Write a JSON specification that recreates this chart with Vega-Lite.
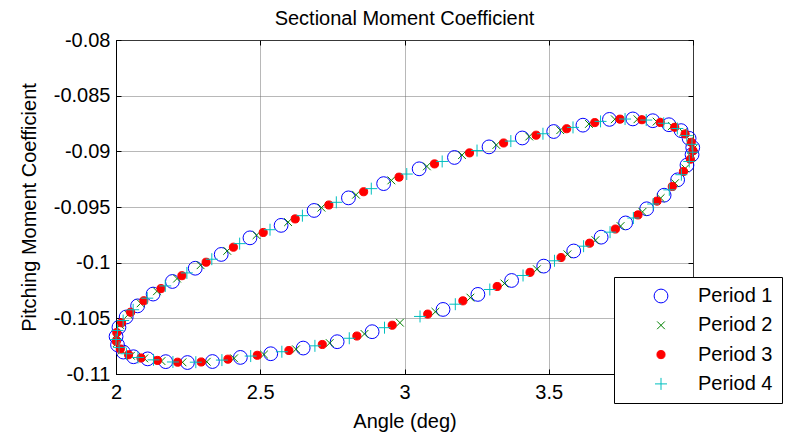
{
  "$schema": "https://vega.github.io/schema/vega-lite/v6.json",
  "width": 577,
  "height": 334,
  "autosize": {"type": "none"},
  "padding": {"left": 116, "top": 40, "right": 95, "bottom": 60},
  "background": "white",
  "title": {"text": "Sectional Moment Coefficient", "fontSize": 20, "fontWeight": "normal", "color": "black", "font": "Liberation Sans", "offset": 1},
  "data": {"values": [
    {"angle":2.0002,"cm":-0.10664,"period":"Period 1"},{"angle":2.0102,"cm":-0.10580,"period":"Period 1"},{"angle":2.0353,"cm":-0.10488,"period":"Period 1"},{"angle":2.0749,"cm":-0.10388,"period":"Period 1"},{"angle":2.1286,"cm":-0.10282,"period":"Period 1"},{"angle":2.1955,"cm":-0.10169,"period":"Period 1"},{"angle":2.2746,"cm":-0.10050,"period":"Period 1"},{"angle":2.3647,"cm":-0.09926,"period":"Period 1"},{"angle":2.4644,"cm":-0.09777,"period":"Period 1"},{"angle":2.5723,"cm":-0.09665,"period":"Period 1"},{"angle":2.6866,"cm":-0.09531,"period":"Period 1"},{"angle":2.8057,"cm":-0.09418,"period":"Period 1"},{"angle":2.9277,"cm":-0.09290,"period":"Period 1"},{"angle":3.0508,"cm":-0.09157,"period":"Period 1"},{"angle":3.1731,"cm":-0.09055,"period":"Period 1"},{"angle":3.2929,"cm":-0.08960,"period":"Period 1"},{"angle":3.4081,"cm":-0.08880,"period":"Period 1"},{"angle":3.5172,"cm":-0.08822,"period":"Period 1"},{"angle":3.6185,"cm":-0.08765,"period":"Period 1"},{"angle":3.7104,"cm":-0.08713,"period":"Period 1"},{"angle":3.7915,"cm":-0.08709,"period":"Period 1"},{"angle":3.8606,"cm":-0.08725,"period":"Period 1"},{"angle":3.9166,"cm":-0.08761,"period":"Period 1"},{"angle":3.9588,"cm":-0.08814,"period":"Period 1"},{"angle":3.9865,"cm":-0.08883,"period":"Period 1"},{"angle":3.9991,"cm":-0.08966,"period":"Period 1"},{"angle":3.9967,"cm":-0.09030,"period":"Period 1"},{"angle":3.9791,"cm":-0.09124,"period":"Period 1"},{"angle":3.9467,"cm":-0.09256,"period":"Period 1"},{"angle":3.8999,"cm":-0.09394,"period":"Period 1"},{"angle":3.8395,"cm":-0.09516,"period":"Period 1"},{"angle":3.7664,"cm":-0.09643,"period":"Period 1"},{"angle":3.6816,"cm":-0.09771,"period":"Period 1"},{"angle":3.5866,"cm":-0.09895,"period":"Period 1"},{"angle":3.4826,"cm":-0.10031,"period":"Period 1"},{"angle":3.3713,"cm":-0.10160,"period":"Period 1"},{"angle":3.2544,"cm":-0.10285,"period":"Period 1"},{"angle":3.1336,"cm":-0.10420,"period":"Period 1"},{"angle":2.8878,"cm":-0.10620,"period":"Period 1"},{"angle":2.7666,"cm":-0.10710,"period":"Period 1"},{"angle":2.6488,"cm":-0.10767,"period":"Period 1"},{"angle":2.5364,"cm":-0.10818,"period":"Period 1"},{"angle":2.4311,"cm":-0.10851,"period":"Period 1"},{"angle":2.3343,"cm":-0.10888,"period":"Period 1"},{"angle":2.2477,"cm":-0.10897,"period":"Period 1"},{"angle":2.1724,"cm":-0.10889,"period":"Period 1"},{"angle":2.1097,"cm":-0.10864,"period":"Period 1"},{"angle":2.0605,"cm":-0.10845,"period":"Period 1"},{"angle":2.0255,"cm":-0.10803,"period":"Period 1"},{"angle":2.0053,"cm":-0.10738,"period":"Period 1"},
    {"angle":2.0011,"cm":-0.10646,"period":"Period 2"},{"angle":2.0144,"cm":-0.10560,"period":"Period 2"},{"angle":2.0427,"cm":-0.10466,"period":"Period 2"},{"angle":2.0854,"cm":-0.10365,"period":"Period 2"},{"angle":2.1420,"cm":-0.10257,"period":"Period 2"},{"angle":2.2117,"cm":-0.10143,"period":"Period 2"},{"angle":2.2932,"cm":-0.10023,"period":"Period 2"},{"angle":2.3856,"cm":-0.09894,"period":"Period 2"},{"angle":2.4871,"cm":-0.09753,"period":"Period 2"},{"angle":2.5966,"cm":-0.09636,"period":"Period 2"},{"angle":2.7121,"cm":-0.09506,"period":"Period 2"},{"angle":2.8320,"cm":-0.09390,"period":"Period 2"},{"angle":2.9544,"cm":-0.09261,"period":"Period 2"},{"angle":3.0775,"cm":-0.09135,"period":"Period 2"},{"angle":3.1993,"cm":-0.09034,"period":"Period 2"},{"angle":3.3183,"cm":-0.08943,"period":"Period 2"},{"angle":3.4323,"cm":-0.08867,"period":"Period 2"},{"angle":3.5399,"cm":-0.08810,"period":"Period 2"},{"angle":3.6393,"cm":-0.08754,"period":"Period 2"},{"angle":3.7289,"cm":-0.08712,"period":"Period 2"},{"angle":3.8075,"cm":-0.08712,"period":"Period 2"},{"angle":3.8739,"cm":-0.08733,"period":"Period 2"},{"angle":3.9269,"cm":-0.08773,"period":"Period 2"},{"angle":3.9660,"cm":-0.08829,"period":"Period 2"},{"angle":3.9905,"cm":-0.08901,"period":"Period 2"},{"angle":3.9999,"cm":-0.08980,"period":"Period 2"},{"angle":3.9942,"cm":-0.09050,"period":"Period 2"},{"angle":3.9733,"cm":-0.09153,"period":"Period 2"},{"angle":3.9378,"cm":-0.09286,"period":"Period 2"},{"angle":3.8879,"cm":-0.09420,"period":"Period 2"},{"angle":3.8247,"cm":-0.09544,"period":"Period 2"},{"angle":3.7490,"cm":-0.09671,"period":"Period 2"},{"angle":3.6618,"cm":-0.09798,"period":"Period 2"},{"angle":3.5648,"cm":-0.09925,"period":"Period 2"},{"angle":3.4590,"cm":-0.10059,"period":"Period 2"},{"angle":3.3464,"cm":-0.10187,"period":"Period 2"},{"angle":3.2285,"cm":-0.10314,"period":"Period 2"},{"angle":3.1071,"cm":-0.10441,"period":"Period 2"},{"angle":2.9841,"cm":-0.10539,"period":"Period 2"},{"angle":2.8613,"cm":-0.10640,"period":"Period 2"},{"angle":2.7407,"cm":-0.10722,"period":"Period 2"},{"angle":2.6239,"cm":-0.10778,"period":"Period 2"},{"angle":2.5129,"cm":-0.10825,"period":"Period 2"},{"angle":2.4093,"cm":-0.10859,"period":"Period 2"},{"angle":2.3146,"cm":-0.10890,"period":"Period 2"},{"angle":2.2304,"cm":-0.10895,"period":"Period 2"},{"angle":2.1577,"cm":-0.10884,"period":"Period 2"},{"angle":2.0979,"cm":-0.10860,"period":"Period 2"},{"angle":2.0517,"cm":-0.10836,"period":"Period 2"},{"angle":2.0199,"cm":-0.10789,"period":"Period 2"},{"angle":2.0029,"cm":-0.10722,"period":"Period 2"},
    {"angle":2.0027,"cm":-0.10628,"period":"Period 3"},{"angle":2.0192,"cm":-0.10540,"period":"Period 3"},{"angle":2.0507,"cm":-0.10445,"period":"Period 3"},{"angle":2.0965,"cm":-0.10342,"period":"Period 3"},{"angle":2.1560,"cm":-0.10233,"period":"Period 3"},{"angle":2.2284,"cm":-0.10117,"period":"Period 3"},{"angle":2.3124,"cm":-0.09996,"period":"Period 3"},{"angle":2.4069,"cm":-0.09861,"period":"Period 3"},{"angle":2.5103,"cm":-0.09729,"period":"Period 3"},{"angle":2.6212,"cm":-0.09607,"period":"Period 3"},{"angle":2.7378,"cm":-0.09482,"period":"Period 3"},{"angle":2.8584,"cm":-0.09363,"period":"Period 3"},{"angle":2.9811,"cm":-0.09232,"period":"Period 3"},{"angle":3.1041,"cm":-0.09113,"period":"Period 3"},{"angle":3.2254,"cm":-0.09014,"period":"Period 3"},{"angle":3.3435,"cm":-0.08925,"period":"Period 3"},{"angle":3.4563,"cm":-0.08855,"period":"Period 3"},{"angle":3.5622,"cm":-0.08797,"period":"Period 3"},{"angle":3.6596,"cm":-0.08742,"period":"Period 3"},{"angle":3.7470,"cm":-0.08711,"period":"Period 3"},{"angle":3.8230,"cm":-0.08716,"period":"Period 3"},{"angle":3.8866,"cm":-0.08741,"period":"Period 3"},{"angle":3.9366,"cm":-0.08784,"period":"Period 3"},{"angle":3.9726,"cm":-0.08844,"period":"Period 3"},{"angle":3.9939,"cm":-0.08919,"period":"Period 3"},{"angle":3.9999,"cm":-0.08994,"period":"Period 3"},{"angle":3.9909,"cm":-0.09071,"period":"Period 3"},{"angle":3.9668,"cm":-0.09181,"period":"Period 3"},{"angle":3.9282,"cm":-0.09316,"period":"Period 3"},{"angle":3.8753,"cm":-0.09447,"period":"Period 3"},{"angle":3.8093,"cm":-0.09571,"period":"Period 3"},{"angle":3.7310,"cm":-0.09698,"period":"Period 3"},{"angle":3.6416,"cm":-0.09825,"period":"Period 3"},{"angle":3.5425,"cm":-0.09954,"period":"Period 3"},{"angle":3.4351,"cm":-0.10087,"period":"Period 3"},{"angle":3.3212,"cm":-0.10214,"period":"Period 3"},{"angle":3.2024,"cm":-0.10343,"period":"Period 3"},{"angle":3.0805,"cm":-0.10462,"period":"Period 3"},{"angle":2.9574,"cm":-0.10562,"period":"Period 3"},{"angle":2.8349,"cm":-0.10659,"period":"Period 3"},{"angle":2.7150,"cm":-0.10735,"period":"Period 3"},{"angle":2.5993,"cm":-0.10789,"period":"Period 3"},{"angle":2.4897,"cm":-0.10832,"period":"Period 3"},{"angle":2.3880,"cm":-0.10867,"period":"Period 3"},{"angle":2.2954,"cm":-0.10892,"period":"Period 3"},{"angle":2.2136,"cm":-0.10894,"period":"Period 3"},{"angle":2.1436,"cm":-0.10878,"period":"Period 3"},{"angle":2.0867,"cm":-0.10856,"period":"Period 3"},{"angle":2.0436,"cm":-0.10827,"period":"Period 3"},{"angle":2.0149,"cm":-0.10775,"period":"Period 3"},{"angle":2.0012,"cm":-0.10706,"period":"Period 3"},
    {"angle":2.0050,"cm":-0.10609,"period":"Period 4"},{"angle":2.0248,"cm":-0.10520,"period":"Period 4"},{"angle":2.0595,"cm":-0.10423,"period":"Period 4"},{"angle":2.1083,"cm":-0.10319,"period":"Period 4"},{"angle":2.1707,"cm":-0.10209,"period":"Period 4"},{"angle":2.2457,"cm":-0.10092,"period":"Period 4"},{"angle":2.3321,"cm":-0.09969,"period":"Period 4"},{"angle":2.4286,"cm":-0.09829,"period":"Period 4"},{"angle":2.5338,"cm":-0.09704,"period":"Period 4"},{"angle":2.6461,"cm":-0.09578,"period":"Period 4"},{"angle":2.7637,"cm":-0.09458,"period":"Period 4"},{"angle":2.8849,"cm":-0.09335,"period":"Period 4"},{"angle":3.0078,"cm":-0.09204,"period":"Period 4"},{"angle":3.1306,"cm":-0.09091,"period":"Period 4"},{"angle":3.2514,"cm":-0.08993,"period":"Period 4"},{"angle":3.3686,"cm":-0.08908,"period":"Period 4"},{"angle":3.4799,"cm":-0.08842,"period":"Period 4"},{"angle":3.5841,"cm":-0.08785,"period":"Period 4"},{"angle":3.6795,"cm":-0.08731,"period":"Period 4"},{"angle":3.7645,"cm":-0.08710,"period":"Period 4"},{"angle":3.8379,"cm":-0.08719,"period":"Period 4"},{"angle":3.8986,"cm":-0.08748,"period":"Period 4"},{"angle":3.9457,"cm":-0.08795,"period":"Period 4"},{"angle":3.9785,"cm":-0.08859,"period":"Period 4"},{"angle":3.9965,"cm":-0.08937,"period":"Period 4"},{"angle":3.9993,"cm":-0.09008,"period":"Period 4"},{"angle":3.9870,"cm":-0.09091,"period":"Period 4"},{"angle":3.9597,"cm":-0.09210,"period":"Period 4"},{"angle":3.9179,"cm":-0.09346,"period":"Period 4"},{"angle":3.8621,"cm":-0.09473,"period":"Period 4"},{"angle":3.7933,"cm":-0.09599,"period":"Period 4"},{"angle":3.7125,"cm":-0.09726,"period":"Period 4"},{"angle":3.6208,"cm":-0.09852,"period":"Period 4"},{"angle":3.5199,"cm":-0.09983,"period":"Period 4"},{"angle":3.4109,"cm":-0.10115,"period":"Period 4"},{"angle":3.2957,"cm":-0.10241,"period":"Period 4"},{"angle":3.1761,"cm":-0.10373,"period":"Period 4"},{"angle":3.0538,"cm":-0.10483,"period":"Period 4"},{"angle":2.9307,"cm":-0.10584,"period":"Period 4"},{"angle":2.8086,"cm":-0.10679,"period":"Period 4"},{"angle":2.6895,"cm":-0.10747,"period":"Period 4"},{"angle":2.5749,"cm":-0.10800,"period":"Period 4"},{"angle":2.4669,"cm":-0.10839,"period":"Period 4"},{"angle":2.3671,"cm":-0.10875,"period":"Period 4"},{"angle":2.2767,"cm":-0.10894,"period":"Period 4"},{"angle":2.1973,"cm":-0.10892,"period":"Period 4"},{"angle":2.1301,"cm":-0.10873,"period":"Period 4"},{"angle":2.0761,"cm":-0.10852,"period":"Period 4"},{"angle":2.0361,"cm":-0.10818,"period":"Period 4"},{"angle":2.0107,"cm":-0.10761,"period":"Period 4"},{"angle":2.0002,"cm":-0.10690,"period":"Period 4"}
  ]},
  "layer": [
    {
      "mark": {"type": "point", "opacity": 0},
      "encoding": {
        "x": {"field": "angle", "type": "quantitative", "scale": {"domain": [2, 4], "nice": false, "zero": false},
              "axis": {"orient": "top", "values": [2, 2.5, 3, 3.5, 4], "labels": false, "grid": false, "domain": false, "tickSize": -5, "title": null}},
        "y": {"field": "cm", "type": "quantitative", "scale": {"domain": [-0.11, -0.08], "nice": false, "zero": false},
              "axis": {"orient": "right", "values": [-0.11, -0.105, -0.1, -0.095, -0.09, -0.085, -0.08], "labels": false, "grid": false, "domain": false, "tickSize": -5, "title": null}}
      }
    },
    {
      "mark": {"type": "point", "opacity": 1, "strokeWidth": 1},
      "encoding": {
        "x": {"field": "angle", "type": "quantitative", "scale": {"domain": [2, 4], "nice": false, "zero": false},
              "axis": {"orient": "bottom", "values": [2, 2.5, 3, 3.5, 4], "format": "~g", "grid": true, "tickSize": -5, "labelPadding": 13, "labelFlush": false, "labelOverlap": false, "title": "Angle (deg)", "titlePadding": 9}},
        "y": {"field": "cm", "type": "quantitative", "scale": {"domain": [-0.11, -0.08], "nice": false, "zero": false},
              "axis": {"orient": "left", "values": [-0.11, -0.105, -0.1, -0.095, -0.09, -0.085, -0.08], "labelExpr": "replace(format(datum.value, '~g'), '\u2212', '-')", "grid": true, "tickSize": -5, "labelPadding": 11, "labelFlush": false, "labelOverlap": false, "title": "Pitching Moment Coefficient", "titlePadding": 14}},
        "shape": {"field": "period", "type": "nominal",
                  "scale": {"domain": ["Period 1", "Period 2", "Period 3", "Period 4"], "range": ["circle", "M-1,-1L1,1M-1,1L1,-1", "circle", "M-1,0L1,0M0,-1L0,1"]},
                  "legend": {"title": null}},
        "stroke": {"field": "period", "type": "nominal",
                   "scale": {"domain": ["Period 1", "Period 2", "Period 3", "Period 4"], "range": ["#0000FF", "#008000", "#FF0000", "#00BFBF"]},
                   "legend": {"title": null}},
        "fill": {"field": "period", "type": "nominal",
                 "scale": {"domain": ["Period 1", "Period 2", "Period 3", "Period 4"], "range": ["transparent", "transparent", "#FF0000", "transparent"]},
                 "legend": {"title": null}},
        "size": {"field": "period", "type": "nominal",
                 "scale": {"type": "ordinal", "domain": ["Period 1", "Period 2", "Period 3", "Period 4"], "range": [190, 60, 66, 144]},
                 "legend": {"title": null}}
      }
    }
  ],
  "resolve": {"axis": {"x": "independent", "y": "independent"}},
  "config": {
    "font": "Liberation Sans",
    "view": {"stroke": "black", "strokeWidth": 1},
    "axis": {
      "domainColor": "black", "tickColor": "black", "labelColor": "black", "titleColor": "black",
      "labelFont": "Liberation Sans", "titleFont": "Liberation Sans",
      "labelFontSize": 20, "titleFontSize": 20, "titleFontWeight": "normal",
      "gridColor": "#707070", "gridDash": [1, 1], "gridOpacity": 1, "gridWidth": 1
    },
    "legend": {
      "orient": "none", "legendX": 498, "legendY": 237,
      "strokeColor": "black", "fillColor": "white", "padding": 9, "rowPadding": 9.3,
      "symbolOffset": 28, "labelOffset": 27, "labelFontSize": 20, "labelFont": "Liberation Sans",
      "labelColor": "black", "symbolStrokeWidth": 1, "labelLimit": 0
    }
  }
}
